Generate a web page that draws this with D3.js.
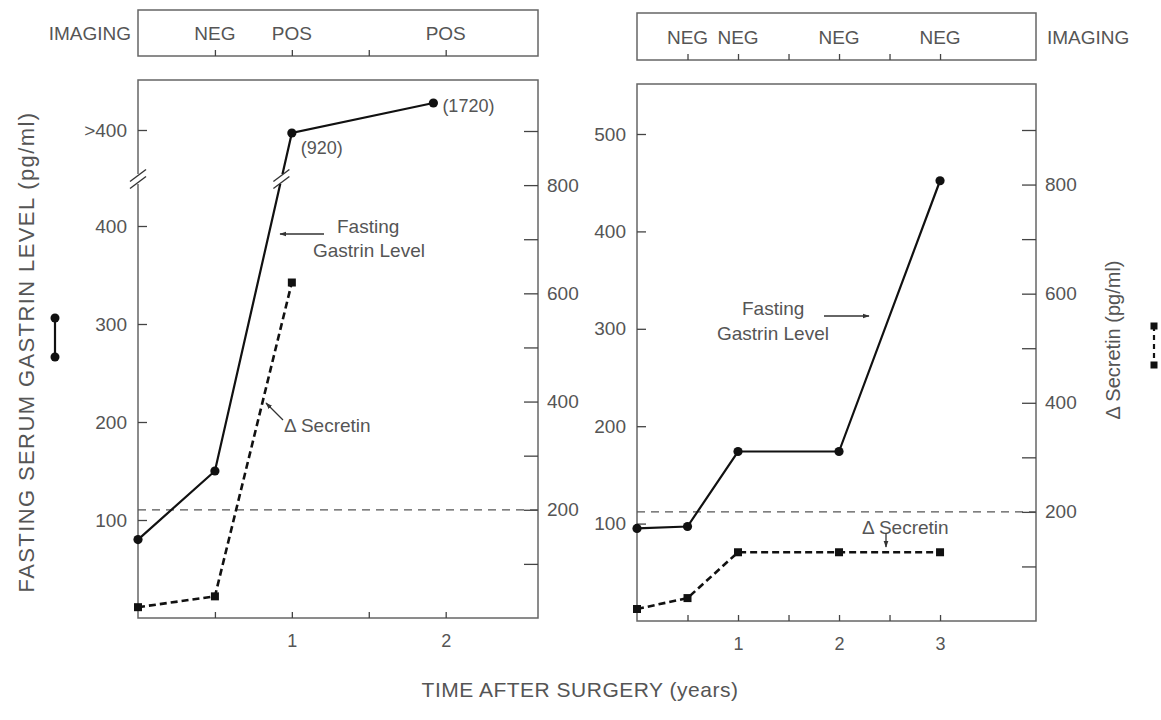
<!DOCTYPE html>
<html>
<head>
<meta charset="utf-8">
<script src="https://cdn.jsdelivr.net/npm/d3@7/dist/d3.min.js"></script>
<style>
  html, body { margin: 0; background: #fff; }
  svg { display: block; font-family: "Liberation Sans", Arial, sans-serif; }
</style>
</head>
<body>
<svg id="chart" width="1161" height="720"></svg>
<script>
// imaging results along the top
const leftImagingYears = [0.5, 1, 2];
const leftImagingLabels = ["NEG", "POS", "POS"];
const rightImagingYears = [0.5, 1, 2, 3];
const rightImagingLabels = ["NEG", "NEG", "NEG", "NEG"];

// patient 1 (left)
const leftGastrinYears = [0, 0.5, 1, 1.92];
const leftGastrin = [80, 150, 920, 1720];
const leftGastrinNotes = ["", "", "(920)", "(1720)"];
const leftSecretinYears = [0, 0.5, 1];
const leftSecretin = [20, 40, 620];

// patient 2 (right)
const rightGastrinYears = [0, 0.5, 1, 2, 3];
const rightGastrin = [95, 97, 174, 174, 452];
const rightSecretinYears = [0, 0.5, 1, 2, 3];
const rightSecretin = [22, 42, 126, 126, 126];

// upper limit of a normal secretin response
const secretinNormal = 200;

// ticks
const leftGastrinTicks = [100, 200, 300, 400];
const overflowTick = 1000;
const overflowLabel = ">400";
const rightGastrinTicks = [100, 200, 300, 400, 500];
const secretinTicks = [100, 200, 300, 400, 500, 600, 700, 800, 900];
const secretinLabelled = [200, 400, 600, 800];
const leftYearTicks = [0.5, 1, 1.5, 2];
const leftYearLabels = [1, 2];
const rightYearTicks = [0.5, 1, 1.5, 2, 2.5, 3];
const rightYearLabels = [1, 2, 3];

const ink = "#111";
const textCol = "#555";
const frameCol = "#666";
const fs = 19;

const svg = d3.select("#chart");

const defs = svg.append("defs");
defs.append("marker")
  .attr("id", "arrow")
  .attr("viewBox", "0 0 10 10")
  .attr("refX", 9).attr("refY", 5)
  .attr("markerWidth", 7).attr("markerHeight", 7)
  .attr("markerUnits", "userSpaceOnUse")
  .attr("orient", "auto")
  .append("path")
  .attr("d", "M0,1.5L10,5L0,8.5Z")
  .attr("fill", "#333");

const panels = [
  {
    x: d3.scaleLinear().domain([0, 2.6]).range([138, 538]),
    top: 80, bottom: 618,
    box: [10, 56],
    gastrin: d3.scaleLinear().domain([0, 400, 920, 1720]).range([618, 226, 133, 103]),
    secretin: d3.scaleLinear().domain([0, 900]).range([618, 131]),
    gastrinTicks: [...leftGastrinTicks, overflowTick],
    yearTicks: leftYearTicks, yearLabels: leftYearLabels,
    imgYears: leftImagingYears, imgLabels: leftImagingLabels,
    gYears: leftGastrinYears, g: leftGastrin, notes: leftGastrinNotes,
    sYears: leftSecretinYears, s: leftSecretin,
    breakY: 179,
  },
  {
    x: d3.scaleLinear().domain([0, 3.95]).range([637, 1036]),
    top: 84, bottom: 621,
    box: [13, 60],
    gastrin: d3.scaleLinear().domain([0, 500]).range([621, 134]),
    secretin: d3.scaleLinear().domain([0, 900]).range([621, 130]),
    gastrinTicks: rightGastrinTicks,
    yearTicks: rightYearTicks, yearLabels: rightYearLabels,
    imgYears: rightImagingYears, imgLabels: rightImagingLabels,
    gYears: rightGastrinYears, g: rightGastrin, notes: [],
    sYears: rightSecretinYears, s: rightSecretin,
    breakY: null,
  },
];

function styleAxis(g) {
  g.select(".domain").remove();
  g.selectAll(".tick line").attr("stroke", "#444").attr("stroke-width", 1.3);
  g.selectAll(".tick text")
    .attr("fill", textCol)
    .attr("font-size", fs)
    .attr("font-family", '"Liberation Sans", Arial, sans-serif');
}

function breakMarks(g, cx, cy) {
  g.append("rect")
    .attr("x", cx - 6).attr("y", cy - 5)
    .attr("width", 12).attr("height", 10)
    .attr("fill", "#fff");
  for (const dy of [-3.5, 3.5]) {
    g.append("line")
      .attr("x1", cx - 8).attr("y1", cy + dy + 6)
      .attr("x2", cx + 8).attr("y2", cy + dy - 6)
      .attr("stroke", "#333").attr("stroke-width", 1.4);
  }
}

function drawPanel(p) {
  const g = svg.append("g");
  const [x0, x1] = p.x.range();

  // imaging strip
  g.append("rect")
    .attr("x", x0).attr("y", p.box[0])
    .attr("width", x1 - x0).attr("height", p.box[1] - p.box[0])
    .attr("fill", "none").attr("stroke", frameCol).attr("stroke-width", 1.5);
  g.append("g")
    .attr("transform", `translate(0,${p.box[1]})`)
    .call(d3.axisTop(p.x).tickValues(p.yearTicks).tickSize(6).tickFormat(""))
    .call(styleAxis);
  g.selectAll("text.img")
    .data(p.imgYears)
    .join("text")
    .attr("class", "img")
    .attr("x", (d) => p.x(d))
    .attr("y", (p.box[0] + p.box[1]) / 2 + 7)
    .attr("text-anchor", "middle")
    .attr("font-size", fs)
    .attr("fill", textCol)
    .text((d, i) => p.imgLabels[i]);

  // plot frame
  g.append("rect")
    .attr("x", x0).attr("y", p.top)
    .attr("width", x1 - x0).attr("height", p.bottom - p.top)
    .attr("fill", "none").attr("stroke", frameCol).attr("stroke-width", 1.5);

  // axes, ticks point inward
  g.append("g")
    .attr("transform", `translate(${x0},0)`)
    .call(d3.axisLeft(p.gastrin).tickValues(p.gastrinTicks).tickSizeInner(-9).tickSizeOuter(0).tickPadding(11)
      .tickFormat((d) => (d === overflowTick ? overflowLabel : d)))
    .call(styleAxis);
  g.append("g")
    .attr("transform", `translate(${x1},0)`)
    .call(d3.axisRight(p.secretin).tickValues(secretinTicks).tickSizeInner(-14).tickSizeOuter(0).tickPadding(9)
      .tickFormat((d) => (secretinLabelled.includes(d) ? d : "")))
    .call(styleAxis);
  const xa = g.append("g")
    .attr("transform", `translate(0,${p.bottom})`)
    .call(d3.axisBottom(p.x).tickValues(p.yearTicks).tickSizeInner(-6).tickSizeOuter(0).tickPadding(16)
      .tickFormat((d) => (p.yearLabels.includes(d) ? d : "")))
    .call(styleAxis);
  xa.selectAll(".tick text").attr("font-size", 18);

  // normal limit of secretin response
  g.append("line")
    .attr("x1", x0).attr("x2", x1)
    .attr("y1", p.secretin(secretinNormal)).attr("y2", p.secretin(secretinNormal))
    .attr("stroke", "#555").attr("stroke-width", 1.3)
    .attr("stroke-dasharray", "8,6");

  // secretin response (dashed)
  const sPts = p.sYears.map((t, i) => [p.x(t), p.secretin(p.s[i])]);
  g.append("path")
    .attr("d", d3.line()(sPts))
    .attr("fill", "none").attr("stroke", ink).attr("stroke-width", 2.6)
    .attr("stroke-dasharray", "7,4");
  g.selectAll("rect.sm")
    .data(sPts)
    .join("rect")
    .attr("class", "sm")
    .attr("x", (d) => d[0] - 4).attr("y", (d) => d[1] - 4)
    .attr("width", 8).attr("height", 8)
    .attr("fill", ink);

  // fasting gastrin (solid)
  const gPts = p.gYears.map((t, i) => [p.x(t), p.gastrin(p.g[i])]);
  g.append("path")
    .attr("d", d3.line()(gPts))
    .attr("fill", "none").attr("stroke", ink).attr("stroke-width", 2.2);
  g.selectAll("circle.gm")
    .data(gPts)
    .join("circle")
    .attr("class", "gm")
    .attr("cx", (d) => d[0]).attr("cy", (d) => d[1])
    .attr("r", 4.6)
    .attr("fill", ink);

  if (p.breakY != null) {
    breakMarks(g, x0, p.breakY);
    // find where the rising segment crosses the break
    for (let i = 1; i < gPts.length; i++) {
      const [ax, ay] = gPts[i - 1];
      const [bx, by] = gPts[i];
      if ((ay - p.breakY) * (by - p.breakY) < 0) {
        const t = (ay - p.breakY) / (ay - by);
        breakMarks(g, ax + t * (bx - ax), p.breakY);
      }
    }
  }

  g.selectAll("text.note")
    .data(gPts.map((d, i) => ({pt: d, note: p.notes[i]})).filter((d) => d.note))
    .join("text")
    .attr("class", "note")
    .attr("x", (d) => d.pt[0] + 9)
    .attr("y", (d, i) => d.pt[1] + (i === 0 ? 21 : 9))
    .attr("font-size", 18)
    .attr("fill", textCol)
    .text((d) => d.note);

  return g;
}

const [gl, gr] = panels.map(drawPanel);

function label(g, x, y, text, anchor = "start", size = fs) {
  return g.append("text")
    .attr("x", x).attr("y", y)
    .attr("text-anchor", anchor)
    .attr("font-size", size)
    .attr("fill", textCol)
    .text(text);
}

function arrow(g, x1, y1, x2, y2) {
  g.append("line")
    .attr("x1", x1).attr("y1", y1).attr("x2", x2).attr("y2", y2)
    .attr("stroke", "#333").attr("stroke-width", 1.3)
    .attr("marker-end", "url(#arrow)");
}

// "IMAGING" captions
label(gl, 131, 40, "IMAGING", "end");
label(gr, 1047, 44, "IMAGING");

// left panel notes
label(gl, 337, 233, "Fasting");
label(gl, 313, 257, "Gastrin Level");
arrow(gl, 324, 234, 280, 234);
label(gl, 284, 432, "\u0394 Secretin");
arrow(gl, 283, 420, 266, 403);

// right panel notes
label(gr, 742, 315, "Fasting");
label(gr, 717, 340, "Gastrin Level");
arrow(gr, 824, 316, 869, 316);
label(gr, 862, 534, "\u0394 Secretin");
arrow(gr, 886, 533, 886, 547);

// axis titles
svg.append("text")
  .attr("transform", "translate(34,352) rotate(-90)")
  .attr("text-anchor", "middle")
  .attr("font-size", 22)
  .attr("letter-spacing", 1.4)
  .attr("fill", textCol)
  .text("FASTING SERUM GASTRIN LEVEL  (pg/ml)");

svg.append("text")
  .attr("transform", "translate(1120,340) rotate(-90)")
  .attr("text-anchor", "middle")
  .attr("font-size", 20)
  .attr("fill", textCol)
  .text("\u0394 Secretin (pg/ml)");

svg.append("text")
  .attr("x", 580).attr("y", 697)
  .attr("text-anchor", "middle")
  .attr("font-size", 21)
  .attr("letter-spacing", 0.5)
  .attr("fill", textCol)
  .text("TIME AFTER SURGERY (years)");

// series keys beside the axis titles
const keyL = svg.append("g");
keyL.append("line")
  .attr("x1", 55).attr("x2", 55).attr("y1", 318).attr("y2", 357)
  .attr("stroke", ink).attr("stroke-width", 2.2);
keyL.selectAll("circle")
  .data([318, 357])
  .join("circle")
  .attr("cx", 55).attr("cy", (d) => d).attr("r", 4.5).attr("fill", ink);

const keyR = svg.append("g");
keyR.append("line")
  .attr("x1", 1154).attr("x2", 1154).attr("y1", 326).attr("y2", 365)
  .attr("stroke", ink).attr("stroke-width", 2.2).attr("stroke-dasharray", "5,4");
keyR.selectAll("rect")
  .data([326, 365])
  .join("rect")
  .attr("x", 1150.5).attr("y", (d) => d - 3.5).attr("width", 7).attr("height", 7).attr("fill", ink);
</script>
</body>
</html>
